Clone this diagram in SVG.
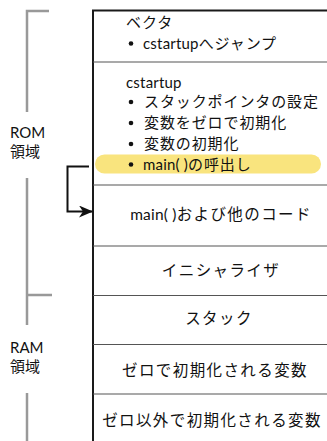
<svg xmlns="http://www.w3.org/2000/svg" width="327" height="441" viewBox="0 0 327 441">
<style>
.t{font-family:"Lato","Noto Sans CJK JP",sans-serif;font-size:15px;fill:#111;letter-spacing:0.9px}
.c{text-anchor:middle;font-size:15.5px;letter-spacing:1.4px}
.l{letter-spacing:0.2px}
.div{stroke:#555;stroke-width:1.2}
.br{stroke:#999;stroke-width:2.5;fill:none}
</style>
<defs>
<marker id="ah" markerWidth="14" markerHeight="12" refX="13" refY="6" orient="auto" markerUnits="userSpaceOnUse">
<path d="M0,0 L14,6 L0,12 L4,6 Z" fill="#111"/>
</marker>
</defs>
<rect width="327" height="441" fill="#fff"/>
<g id="bracket">
<path class="br" d="M49,11 H27 V112"/>
<path class="br" d="M27,178 V295 H52 M27,295 V325"/>
<path class="br" d="M27,393 V441"/>
<text class="t" x="10" y="138" style="letter-spacing:0">ROM</text>
<text class="t" x="10" y="157" style="letter-spacing:0">領域</text>
<text class="t" x="10" y="353" style="letter-spacing:0">RAM</text>
<text class="t" x="10" y="372" style="letter-spacing:0">領域</text>
</g>
<g id="highlight">
<rect x="95" y="154.5" width="226" height="19" rx="9.5" fill="#f9e47e"/>
</g>
<g id="memory">
<path d="M327,10.5 H93 V441" fill="none" stroke="#1a1a1a" stroke-width="2"/>
<line class="div" x1="93" y1="62" x2="327" y2="62"/>
<line class="div" x1="93" y1="185" x2="327" y2="185"/>
<line class="div" x1="93" y1="246" x2="327" y2="246"/>
<line class="div" x1="93" y1="295.5" x2="327" y2="295.5"/>
<line class="div" x1="93" y1="344.5" x2="327" y2="344.5"/>
<line class="div" x1="93" y1="394" x2="327" y2="394"/>
</g>
<g id="vector">
<text class="t" x="126" y="28">ベクタ</text>
<circle cx="131" cy="43.5" r="2.3" fill="#111"/>
<text class="t" x="143" y="48.5"><tspan class="l">cstartup</tspan>へジャンプ</text>
</g>
<g id="cstartup">
<text class="t" x="126" y="88" style="letter-spacing:0.2px">cstartup</text>
<circle cx="131" cy="102" r="2.3" fill="#111"/>
<text class="t" x="144" y="107">スタックポインタの設定</text>
<circle cx="131" cy="123" r="2.3" fill="#111"/>
<text class="t" x="144" y="128">変数をゼロで初期化</text>
<circle cx="131" cy="144" r="2.3" fill="#111"/>
<text class="t" x="144" y="149">変数の初期化</text>
<circle cx="131" cy="164.5" r="2.3" fill="#111"/>
<text class="t" x="143" y="169.5"><tspan class="l">main( )</tspan>の呼出し</text>
</g>
<g id="main-code"><text class="t c" x="221" y="219.5"><tspan class="l">main( )</tspan>および他のコード</text></g>
<g id="initializer"><text class="t c" x="221" y="275.5">イニシャライザ</text></g>
<g id="stack"><text class="t c" x="219" y="323.5">スタック</text></g>
<g id="zero-vars"><text class="t c" x="215" y="375.5">ゼロで初期化される変数</text></g>
<g id="nonzero-vars"><text class="t c" x="212" y="425.5">ゼロ以外で初期化される変数</text></g>
<g id="connectors">
<path d="M89,166.5 H67.5 V211.5 H92" fill="none" stroke="#111" stroke-width="2" marker-end="url(#ah)"/>
</g>
</svg>
